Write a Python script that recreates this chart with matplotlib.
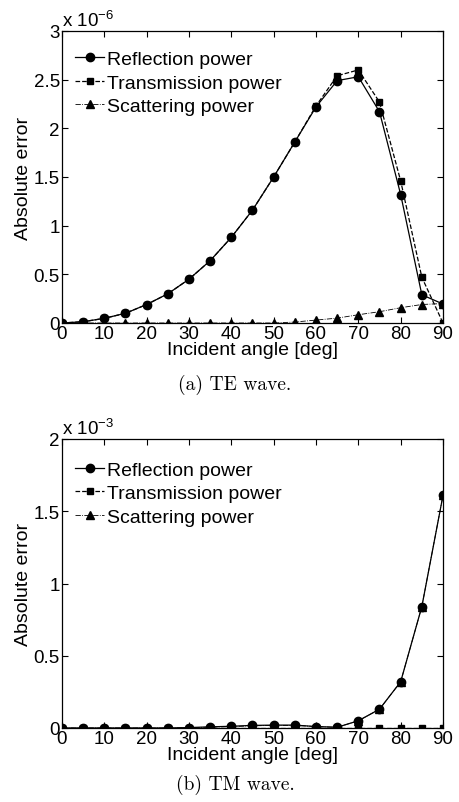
import numpy as np
import matplotlib.pyplot as plt
from matplotlib.ticker import FuncFormatter

plt.rcParams['font.family'] = ['Liberation Sans', 'DejaVu Sans']
plt.rcParams['mathtext.fontset'] = 'custom'
plt.rcParams['mathtext.rm'] = 'Liberation Sans'

angles = [0, 5, 10, 15, 20, 25, 30, 35, 40, 45, 50, 55, 60, 65, 70, 75, 80, 85, 90]

# TE wave, values in units of 1e-6
te_refl = [0.0, 0.013, 0.048, 0.10, 0.19, 0.30, 0.45, 0.64, 0.88, 1.16, 1.50,
           1.86, 2.22, 2.49, 2.53, 2.17, 1.32, 0.29, 0.195]
te_trans = [0.0, 0.013, 0.048, 0.10, 0.19, 0.30, 0.45, 0.64, 0.88, 1.16, 1.50,
            1.86, 2.23, 2.54, 2.60, 2.27, 1.46, 0.47, 0.0]
te_scat = [0.0, 0.0, 0.0, 0.0, 0.0, 0.0, 0.0, 0.0, 0.0, 0.0, 0.0,
           0.01, 0.03, 0.05, 0.085, 0.116, 0.157, 0.19, 0.20]

# TM wave, values in units of 1e-3
tm_refl = [0.0, 0.0, 0.0, 0.0, 0.0, 0.0, 0.003, 0.008, 0.012, 0.018, 0.02,
           0.02, 0.01, 0.005, 0.05, 0.13, 0.32, 0.84, 1.61]
tm_trans = [0.0] * 19
tm_scat = [0.0, 0.0, 0.0, 0.0, 0.0, 0.0, 0.002, 0.006, 0.01, 0.015, 0.018,
           0.018, 0.01, 0.005, 0.05, 0.13, 0.32, 0.84, 1.61]

fig = plt.figure(figsize=(4.6, 8.03), dpi=100)
W, H = 460.0, 803.0

def make_axes(x0, y0, x1, y1):
    return fig.add_axes([x0 / W, 1 - y1 / H, (x1 - x0) / W, (y1 - y0) / H])

def panel(ax, refl, trans, scat, ymax, ystep, exp, caption, cap_y, leg_y):
    ax.plot(angles, refl, '-', color='k', lw=0.9, marker='o', ms=6,
            label='Reflection power')
    ax.plot(angles, trans, '--', color='k', lw=0.9, marker='s', ms=5,
            label='Transmission power')
    ax.plot(angles, scat, '-.', color='k', lw=0.6, marker='^', ms=6,
            label='Scattering power')
    ax.set_xlim(0, 90)
    ax.set_ylim(0, ymax)
    ax.set_xticks(np.arange(0, 91, 10))
    ax.set_yticks(np.arange(0, ymax + 1e-9, ystep))
    ax.yaxis.set_major_formatter(FuncFormatter(lambda v, p: '%g' % v))
    ax.tick_params(direction='in', top=True, right=True, labelsize=13.5,
                   length=4, width=0.8, pad=1.5)
    for s in ax.spines.values():
        s.set_linewidth(0.9)
    ax.set_xlabel('Incident angle [deg]', fontsize=14, labelpad=-0.5)
    ax.set_ylabel('Absolute error', fontsize=14, labelpad=1)
    ax.text(0.0, 1.005, r'x 10$^{%d}$' % exp, transform=ax.transAxes,
            fontsize=13.5, ha='left', va='bottom')
    ax.legend(loc='upper left', frameon=False, fontsize=14,
              handlelength=1.45, handletextpad=0.15, labelspacing=0.3,
              borderaxespad=0.0, bbox_to_anchor=(0.015, leg_y))
    fig.text(235 / W, 1 - cap_y / H, caption, fontsize=14,
             ha='center', va='center', family=['cmr10', 'DejaVu Serif'])

ax1 = make_axes(62, 32, 443, 324)
panel(ax1, te_refl, te_trans, te_scat, 3, 0.5, -6, '(a) TE wave.', 385, 0.96)

ax2 = make_axes(62, 440, 443, 729)
panel(ax2, tm_refl, tm_trans, tm_scat, 2, 0.5, -3, '(b) TM wave.', 785, 0.95)

fig.savefig('out.png', dpi=100)
